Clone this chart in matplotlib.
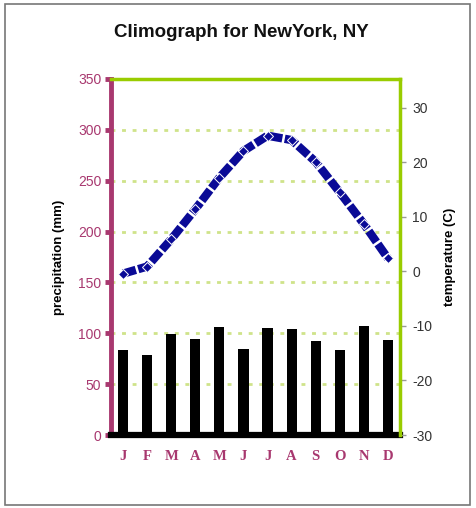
import matplotlib
matplotlib.use("Agg")
from matplotlib import pyplot as plt
from matplotlib.patches import Rectangle

# data
months = ["J", "F", "M", "A", "M", "J", "J", "A", "S", "O", "N", "D"]
precip = [84, 79, 99, 94, 106, 85, 105, 104, 92, 84, 107, 93]
temp = [-0.4, 0.9, 5.9, 11.4, 17.2, 22.1, 24.9, 24.1, 20.1, 14.5, 8.7, 2.4]
precip_ticks = [0, 50, 100, 150, 200, 250, 300, 350]
temp_ticks = [-30, -20, -10, 0, 10, 20, 30]

# colors
magenta = "#a8386f"
green = "#99cc00"
gridgreen = "#cfe38a"
navy = "#0a0a96"

plt.rcParams['font.family'] = ['Liberation Sans', 'DejaVu Sans']
plt.rcParams['axes.unicode_minus'] = False

fig = plt.figure(figsize=(4.76, 5.08), dpi=100)
ax = fig.add_axes([0.2332, 0.1437, 0.6071, 0.7008])

x = list(range(len(months)))
ax.bar(x, precip, width=0.42, color="black", zorder=3)
ax.set_xlim(-0.5, 11.5)
ax.set_ylim(0, 350)
ax.set_yticks(precip_ticks)
ax.set_xticks(x)
ax.set_xticklabels(months, family=['Liberation Serif'], fontweight='bold',
                   fontsize=10.5, color=magenta)
ax.tick_params(axis='x', length=0, pad=11)
ax.tick_params(axis='y', colors=magenta, labelsize=10, length=4.5, width=3.5, pad=2.5)

# dashed grid lines (not at 0 and 350)
for v in precip_ticks[1:-1]:
    ax.axhline(v, color=gridgreen, lw=2, ls=(0, (1.4, 2.4)), zorder=1)

ax.spines['left'].set_color(magenta)
ax.spines['left'].set_linewidth(3.5)
ax.spines['bottom'].set_color("black")
ax.spines['bottom'].set_linewidth(4.5)
ax.spines['bottom'].set_zorder(4)
ax.spines['top'].set_color(green)
ax.spines['top'].set_linewidth(2.5)
ax.spines['right'].set_visible(False)
ax.set_ylabel("precipitation (mm)", fontsize=9.5, fontweight='bold', labelpad=9)

ax2 = ax.twinx()
ax2.set_ylim(-30, 35.3)
ax2.set_yticks(temp_ticks)
ax2.plot(x, temp, color=navy, lw=6, ls=(0, (1.6, 0.3)), marker='D',
         markersize=5.5, markeredgecolor='white', markeredgewidth=0.7, zorder=5)
ax2.tick_params(axis='y', colors="#999999", labelcolor="#333333", labelsize=10,
                length=4, width=1, pad=5)
ax2.spines['right'].set_color(green)
ax2.spines['right'].set_linewidth(2.5)
for s in ['left', 'top', 'bottom']:
    ax2.spines[s].set_visible(False)
ax2.set_ylabel("temperature (C)", fontsize=9.5, fontweight='bold', labelpad=8)

fig.text(0.507, 0.937, "Climograph for NewYork, NY", ha='center', va='center',
         fontsize=13.5, fontweight='bold', color="#111111")

# outer frame
fig.patches.append(Rectangle((5 / 476, 3 / 508), 465 / 476, 501 / 508,
                             transform=fig.transFigure, fill=False,
                             edgecolor="#777777", lw=1.2))

plt.savefig("out.png", dpi=100)
